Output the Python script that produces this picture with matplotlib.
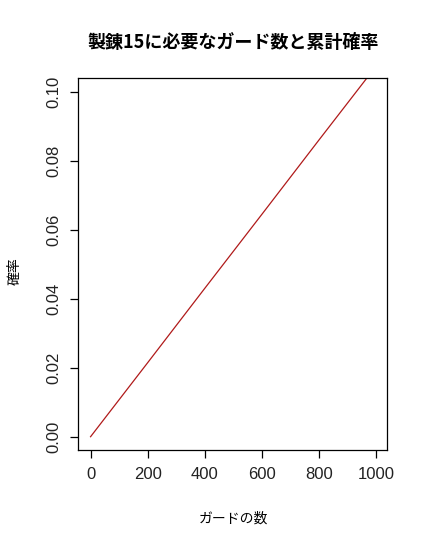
import matplotlib
matplotlib.use("Agg")
import matplotlib.pyplot as plt

plt.rcParams['font.family'] = ['Noto Sans CJK JP', 'DejaVu Sans']

# ガード数と累計確率
guards = [0, 200, 400, 600, 800, 967]
prob = [0.0, 0.0215, 0.0431, 0.0646, 0.0862, 0.1041]

x_ticks = [0, 200, 400, 600, 800, 1000]
y_ticks = [0.00, 0.02, 0.04, 0.06, 0.08, 0.10]

fig = plt.figure(figsize=(4.28, 5.48), dpi=100)
ax = fig.add_axes([0.1822, 0.1788, 0.722, 0.679])

ax.plot(guards, prob, color='#b01a1a', linewidth=0.9)

ax.set_xlim(-44, 1037)
ax.set_ylim(-0.00386, 0.1041)
ax.set_xticks(x_ticks)
ax.set_yticks(y_ticks)
ax.set_xticklabels([str(t) for t in x_ticks], fontsize=12, color='#222222',
                   family='Liberation Sans')
ax.set_yticklabels(['%.2f' % t for t in y_ticks], fontsize=12, color='#222222',
                   family='Liberation Sans', rotation=90, va='center')
ax.tick_params(length=6, width=0.9, pad=6)
for s in ax.spines.values():
    s.set_linewidth(0.9)

fig.text(0.545, 0.923, '製錬15に必要なガード数と累計確率', ha='center', va='center',
         fontsize=13, fontweight='bold')
fig.text(0.545, 0.053, 'ガードの数', ha='center', va='center', fontsize=10)
fig.text(0.035, 0.505, '確率', ha='center', va='center', fontsize=10, rotation=90)

fig.savefig('out.png', dpi=100)
